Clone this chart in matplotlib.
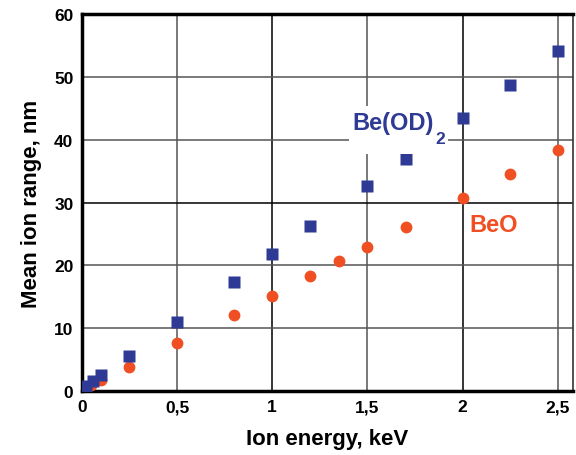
import matplotlib
matplotlib.use("Agg")
import matplotlib.pyplot as plt
from matplotlib.patches import Rectangle

plt.rcParams['font.family'] = ['Liberation Sans', 'DejaVu Sans']
plt.rcParams['font.weight'] = 'bold'

# Data
beod_energy = [0.02, 0.06, 0.1, 0.25, 0.5, 0.8, 1.0, 1.2, 1.5, 1.7, 2.0, 2.25, 2.5]
beod_range = [0.8, 1.6, 2.5, 5.6, 11.0, 17.4, 21.8, 26.2, 32.6, 36.9, 43.5, 48.7, 54.1]
beo_energy = [0.02, 0.05, 0.1, 0.25, 0.5, 0.8, 1.0, 1.2, 1.35, 1.5, 1.7, 2.0, 2.25, 2.5]
beo_range = [0.5, 1.0, 1.8, 3.9, 7.6, 12.1, 15.2, 18.3, 20.7, 22.9, 26.1, 30.7, 34.5, 38.3]
xticks = [0, 0.5, 1, 1.5, 2, 2.5]
xtick_labels = ['0', '0,5', '1', '1,5', '2', '2,5']
yticks = [0, 10, 20, 30, 40, 50, 60]

blue = '#2e3a93'
orange = '#f04e23'

fig = plt.figure(figsize=(5.76, 4.56), dpi=100)
ax = fig.add_axes([0.142, 0.140, 0.853, 0.827])

ax.set_xlim(0, 2.58)
ax.set_ylim(0, 60)

# grid
for x in xticks[1:]:
    c = 'black' if x in (1, 2) else '#555555'
    ax.axvline(x, color=c, lw=1.1, zorder=0)
for y in yticks[1:-1]:
    c = 'black' if y == 30 else '#555555'
    ax.axhline(y, color=c, lw=1.1, zorder=0)

ax.plot(beo_energy, beo_range, 'o', color=orange, ms=8.5, mec='none', zorder=3)
ax.plot(beod_energy, beod_range, 's', color=blue, ms=8.5, mec='none', zorder=4)

# white background behind label
ax.add_patch(Rectangle((1.405, 37.7), 0.52, 7.6, facecolor='white',
                       edgecolor='none', zorder=4.5))
ax.text(1.42, 42.7, 'Be(OD)', color=blue, fontsize=17, fontweight='bold',
        ha='left', va='center', zorder=5)
ax.text(1.855, 40.2, '2', color=blue, fontsize=12.5, fontweight='bold',
        ha='left', va='center', zorder=5)
ax.text(2.035, 26.5, 'BeO', color=orange, fontsize=17, fontweight='bold',
        ha='left', va='center', zorder=5)

ax.set_xticks(xticks)
ax.set_xticklabels(xtick_labels)
ax.set_yticks(yticks)
ax.tick_params(axis='both', length=0, labelsize=12.5, pad=6)
for lbl in ax.get_xticklabels() + ax.get_yticklabels():
    lbl.set_fontweight('bold')

ax.set_xlabel('Ion energy, keV', fontsize=16, fontweight='bold', labelpad=10)
ax.set_ylabel('Mean ion range, nm', fontsize=16, fontweight='bold', labelpad=9)

for s in ['left', 'bottom', 'top']:
    ax.spines[s].set_linewidth(2.5)
    ax.spines[s].set_color('black')
ax.spines['right'].set_linewidth(1.2)
ax.spines['right'].set_color('#333333')

fig.savefig('out.png', dpi=100)
